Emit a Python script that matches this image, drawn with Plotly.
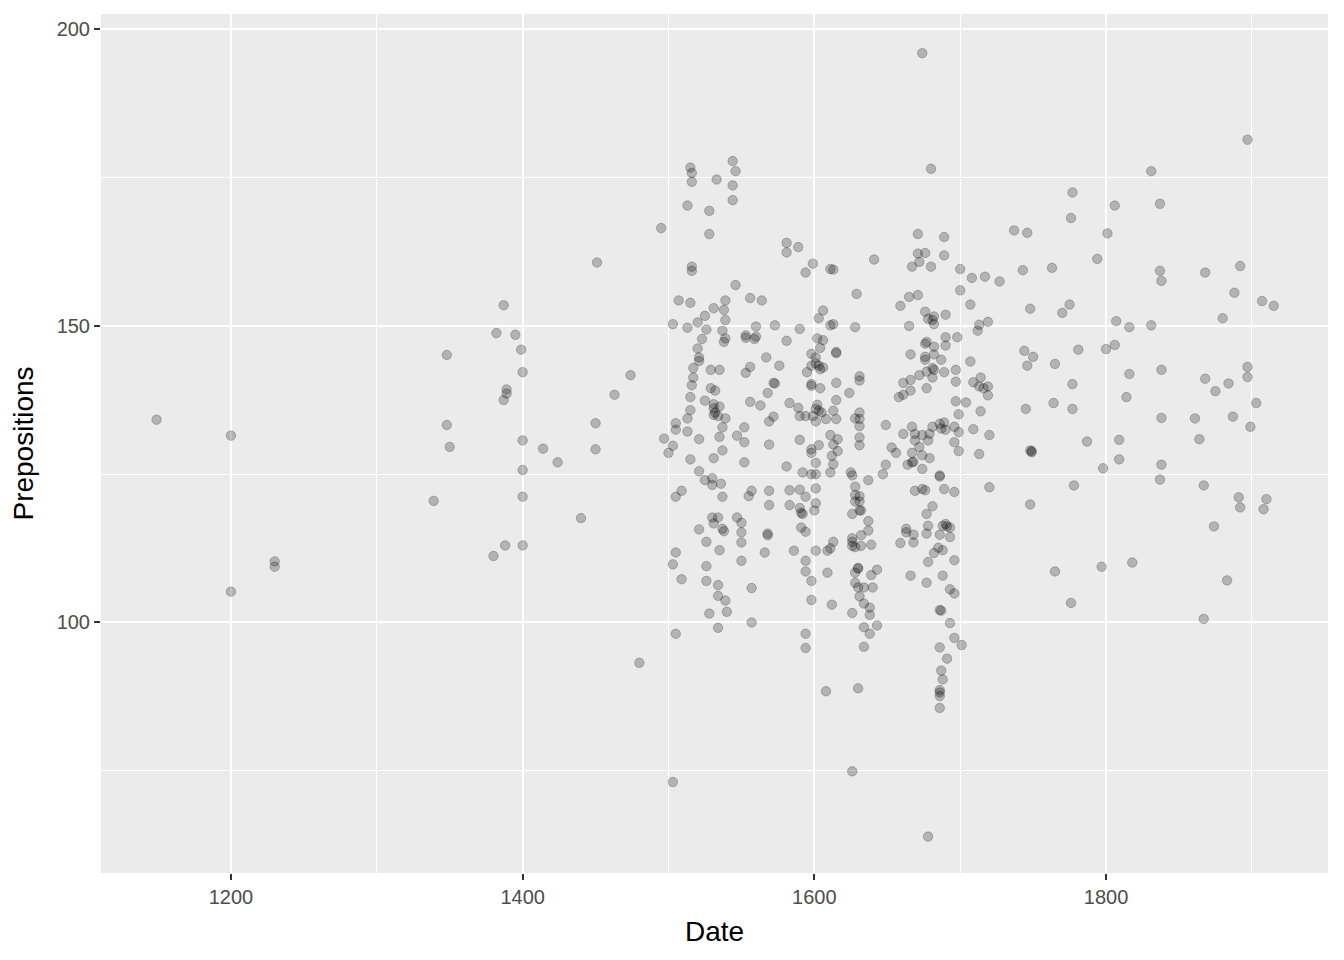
import plotly.graph_objects as go

# Scatter data: Date (year) and Prepositions count
date = [
    1149, 1200, 1200, 1230, 1230, 1339, 1348, 1348, 1350, 1380, 1382, 1387, 1389, 1389, 1387, 1388, 1395, 1399,
    1400, 1400, 1400, 1400, 1400, 1414, 1424, 1440, 1451, 1450, 1450, 1463, 1474, 1480, 1495, 1497, 1500,
    1515, 1516, 1516, 1533, 1544, 1546, 1544, 1544, 1513, 1528, 1528, 1516, 1516, 1546, 1507, 1515, 1531, 1539,
    1556, 1564, 1538, 1525, 1520, 1503, 1513, 1526, 1539, 1560, 1537, 1523, 1539, 1538, 1553, 1553, 1560, 1559,
    1520, 1521, 1521, 1517, 1567, 1529, 1535, 1556, 1553, 1517, 1516, 1529, 1532, 1515, 1525, 1556, 1563, 1531,
    1535, 1531, 1532, 1531, 1534, 1539, 1515, 1513, 1505, 1505, 1513, 1521, 1537, 1535, 1552, 1547, 1552, 1503,
    1537, 1515, 1531, 1552, 1521, 1525, 1530, 1530, 1536, 1509, 1505, 1537, 1557, 1555, 1530, 1534, 1531, 1537,
    1538, 1547, 1550, 1550, 1550, 1521, 1526, 1535, 1505, 1503, 1526, 1550, 1509, 1526, 1534, 1557, 1566, 1534,
    1539, 1540, 1528, 1534, 1557, 1505, 1503,
    1581, 1581, 1589, 1599, 1594, 1611, 1613, 1641, 1629, 1606, 1603, 1573, 1590, 1611, 1613, 1628, 1581, 1602,
    1606, 1604, 1615, 1615, 1598, 1601, 1601, 1603, 1598, 1606, 1595, 1604, 1576, 1631, 1631, 1615, 1624, 1572,
    1573, 1568, 1598, 1598, 1604, 1615, 1583, 1589, 1590, 1594, 1602, 1601, 1603, 1605, 1599, 1601, 1608, 1613,
    1615, 1572, 1569, 1631, 1628, 1631, 1631, 1649, 1611, 1616, 1613, 1631, 1631, 1590, 1569, 1603, 1598, 1616,
    1598, 1601, 1612, 1613, 1581, 1592, 1598, 1601, 1611, 1625, 1626, 1637, 1649, 1647, 1569, 1583, 1590, 1594,
    1601, 1628, 1628, 1628, 1631, 1631, 1631, 1632, 1569, 1583, 1590, 1591, 1592, 1601, 1600, 1626, 1637, 1568,
    1568, 1591, 1594, 1626, 1626, 1626, 1628, 1632, 1632, 1637, 1639, 1586, 1601, 1609, 1611, 1613, 1594, 1594,
    1598, 1609, 1630, 1630, 1628, 1628, 1643, 1639, 1630, 1634, 1640, 1631, 1634, 1638, 1638, 1598, 1612, 1626,
    1634, 1638, 1643, 1634, 1594, 1594, 1608, 1630, 1626,
    1680, 1674, 1671, 1689, 1671, 1676, 1689, 1672, 1667, 1680, 1700, 1708, 1717, 1727, 1700, 1665, 1671, 1659,
    1707, 1676, 1678, 1682, 1682, 1690, 1681, 1665, 1713, 1712, 1719, 1677, 1676, 1690, 1690, 1698, 1682, 1666,
    1676, 1676, 1682, 1687, 1681, 1682, 1677, 1672, 1681, 1689, 1697, 1707, 1666, 1661, 1666, 1658, 1661, 1677,
    1697, 1709, 1714, 1713, 1716, 1719, 1719, 1697, 1704, 1699, 1714, 1667, 1661, 1669, 1669, 1674, 1679, 1681,
    1686, 1689, 1687, 1690, 1678, 1696, 1699, 1696, 1699, 1672, 1653, 1656, 1667, 1668, 1664, 1667, 1674, 1679,
    1674, 1709, 1720, 1713, 1686, 1686, 1669, 1674, 1676, 1689, 1696, 1720, 1681, 1677, 1678, 1677, 1663, 1663,
    1668, 1659, 1668, 1688, 1690, 1691, 1693, 1686, 1693, 1685, 1688, 1682, 1678, 1696, 1666, 1688, 1677, 1693,
    1696, 1686, 1687, 1693, 1696, 1701, 1686, 1691, 1687, 1688, 1686, 1686, 1686, 1686, 1678,
    1897, 1831, 1777, 1806, 1837, 1776, 1737, 1746, 1801, 1794, 1743, 1763, 1837, 1838, 1868, 1892, 1888, 1907,
    1915, 1748, 1775, 1770, 1880, 1807, 1816, 1831, 1744, 1750, 1746, 1765, 1781, 1800, 1806, 1777, 1816, 1838,
    1868, 1875, 1884, 1897, 1897, 1903, 1745, 1764, 1777, 1814, 1838, 1861, 1887, 1899, 1787, 1809, 1809, 1864,
    1748, 1749, 1749, 1798, 1838, 1837, 1778, 1867, 1748, 1891, 1892, 1910, 1908, 1874, 1765, 1797, 1818, 1883,
    1776, 1867,
]

prepositions = [
    134.2, 131.5, 105.2, 110.3, 109.4, 120.5, 145.1, 133.3, 129.6, 111.2, 148.8, 153.5, 139.3, 138.6, 137.5, 113.0, 148.5, 146.0,
    142.2, 130.7, 125.7, 121.2, 113.0, 129.3, 127.0, 117.6, 160.7, 133.6, 129.2, 138.4, 141.7, 93.2, 166.5, 131.0, 128.6,
    176.7, 175.8, 174.3, 174.7, 177.8, 176.1, 173.7, 171.2, 170.3, 169.4, 165.5, 160.0, 159.3, 156.9, 154.3, 153.9, 153.0, 154.3,
    154.7, 154.3, 152.7, 151.7, 150.6, 150.3, 149.7, 149.4, 151.0, 149.9, 149.2, 147.8, 147.9, 147.3, 148.4, 148.0, 148.2, 147.8,
    146.2, 144.7, 144.1, 142.9, 144.7, 142.6, 142.6, 143.1, 142.1, 141.3, 140.0, 139.5, 139.1, 138.0, 137.4, 137.2, 136.6, 136.8,
    136.4, 136.1, 135.4, 135.0, 134.8, 134.4, 135.8, 134.4, 133.6, 132.5, 132.2, 130.9, 132.9, 131.3, 132.9, 131.5, 130.4, 129.8,
    129.0, 127.5, 127.7, 127.0, 125.5, 124.0, 124.3, 123.2, 123.4, 122.2, 121.2, 121.2, 122.2, 121.3, 117.7, 117.7, 116.7, 115.8,
    115.4, 117.7, 116.8, 115.2, 113.5, 115.7, 113.6, 112.2, 111.8, 109.8, 109.5, 110.4, 107.3, 107.0, 106.3, 105.8, 111.8, 104.5,
    103.7, 101.8, 101.5, 99.1, 100.0, 98.1, 73.1,
    164.0, 162.4, 163.3, 160.5, 159.0, 159.6, 159.5, 161.2, 155.4, 152.6, 151.3, 150.1, 149.5, 150.1, 150.3, 149.8, 147.5, 147.9,
    147.6, 146.3, 145.4, 145.6, 145.3, 144.7, 143.7, 143.3, 143.3, 143.0, 142.2, 142.7, 143.3, 141.5, 140.8, 140.4, 138.7, 140.4,
    140.3, 138.7, 140.2, 139.9, 139.5, 137.5, 137.0, 136.2, 134.8, 134.8, 136.7, 136.0, 135.7, 135.4, 134.8, 133.9, 134.3, 135.7,
    134.3, 134.7, 133.9, 135.4, 134.4, 134.3, 133.1, 133.3, 131.6, 130.9, 130.0, 131.2, 129.9, 130.8, 130.0, 129.9, 129.2, 128.9,
    128.6, 126.9, 128.1, 126.7, 126.3, 125.3, 125.0, 125.0, 125.3, 125.3, 124.8, 124.0, 126.6, 125.0, 122.2, 122.3, 122.4, 121.2,
    122.6, 122.9, 121.5, 120.4, 121.3, 120.4, 118.9, 118.9, 119.8, 119.8, 119.3, 118.5, 118.3, 120.1, 118.9, 118.3, 117.1, 115.0,
    114.7, 116.0, 115.3, 114.2, 113.6, 112.9, 112.7, 114.7, 112.9, 115.5, 113.1, 112.1, 112.1, 112.1, 112.5, 113.6, 110.4, 108.6,
    107.0, 108.4, 109.1, 109.2, 108.4, 106.7, 108.9, 108.0, 105.9, 105.9, 105.9, 104.4, 103.2, 102.5, 101.3, 103.8, 103.0, 101.6,
    99.2, 98.1, 99.5, 95.9, 98.1, 95.7, 88.4, 88.9, 74.9,
    176.5, 196.0, 165.5, 165.0, 162.2, 162.3, 161.9, 160.8, 160.0, 160.0, 159.6, 158.1, 158.3, 157.5, 156.0, 154.9, 155.2, 153.4,
    153.6, 152.4, 151.2, 151.6, 150.3, 151.9, 151.0, 150.0, 150.2, 149.2, 150.7, 147.3, 147.0, 148.1, 146.7, 148.1, 146.5, 145.2,
    144.8, 144.3, 145.2, 144.3, 142.9, 142.6, 142.3, 141.7, 141.3, 142.2, 142.6, 144.0, 140.9, 140.4, 139.1, 138.0, 138.4, 139.5,
    140.6, 140.5, 141.3, 139.8, 139.5, 139.8, 138.3, 137.3, 137.1, 135.1, 135.6, 133.0, 131.8, 131.8, 130.7, 131.6, 131.8, 133.0,
    133.5, 133.7, 132.7, 132.5, 130.7, 133.0, 132.1, 130.4, 128.9, 129.6, 129.5, 128.6, 128.6, 127.1, 126.6, 127.0, 128.2, 127.7,
    125.9, 132.6, 131.6, 128.4, 124.6, 124.8, 122.2, 122.5, 122.3, 122.5, 122.0, 122.8, 119.6, 118.3, 116.3, 115.0, 115.8, 115.2,
    114.8, 113.4, 113.5, 116.3, 116.6, 116.2, 116.0, 114.8, 114.4, 112.6, 112.2, 111.7, 110.2, 110.5, 107.9, 107.9, 106.7, 105.6,
    104.9, 102.1, 102.0, 99.9, 97.4, 96.2, 95.8, 93.9, 91.9, 90.4, 88.6, 88.2, 87.6, 85.6, 63.9,
    181.4, 176.1, 172.5, 170.3, 170.6, 168.2, 166.1, 165.7, 165.6, 161.3, 159.4, 159.8, 159.3, 157.6, 159.0, 160.1, 155.6, 154.2,
    153.4, 152.9, 153.6, 152.2, 151.3, 150.8, 149.8, 150.1, 145.8, 144.8, 143.3, 143.6, 146.0, 146.1, 146.8, 140.2, 141.9, 142.6,
    141.1, 139.0, 140.3, 143.1, 141.4, 137.0, 136.0, 137.0, 136.0, 138.0, 134.5, 134.4, 134.7, 133.0, 130.5, 130.8, 127.5, 130.9,
    129.0, 128.9, 128.7, 126.0, 126.6, 124.1, 123.1, 123.1, 119.9, 121.1, 119.4, 120.8, 119.1, 116.2, 108.6, 109.4, 110.1, 107.1,
    103.3, 100.6,
]

x_ticks = [1200, 1400, 1600, 1800]
y_ticks = [100, 150, 200]
x_minor = [1100, 1300, 1500, 1700, 1900]
y_minor = [75, 125, 175]

font_family = "Liberation Sans, Arial, Helvetica, sans-serif"

fig = go.Figure(
    go.Scatter(
        x=date,
        y=prepositions,
        mode="markers",
        marker=dict(
            size=9.5,
            color="rgba(0,0,0,0.24)",
            line=dict(color="rgba(0,0,0,0.22)", width=1),
        ),
        hoverinfo="x+y",
    )
)

# The page body has an 8px margin, so the figure is drawn 8px in from the top-left.
fig.update_layout(
    width=1336,
    height=952,
    margin=dict(l=93, r=16, t=6, b=87),
    paper_bgcolor="white",
    plot_bgcolor="#EBEBEB",
    showlegend=False,
    font=dict(family=font_family, color="#4D4D4D"),
)

axis_common = dict(
    showline=False,
    zeroline=False,
    showgrid=True,
    gridcolor="white",
    gridwidth=2.2,
    ticks="outside",
    ticklen=6,
    tickwidth=1.8,
    tickcolor="#333333",
    tickfont=dict(size=20, color="#4D4D4D", family=font_family),
)

fig.update_xaxes(
    **axis_common,
    range=[1110.9, 1952.2],
    tickvals=x_ticks,
    ticktext=[str(v) for v in x_ticks],
    minor=dict(showgrid=True, gridcolor="white", gridwidth=1.1, tickvals=x_minor, ticks=""),
    title=dict(text="Date", font=dict(size=28, color="black", family=font_family), standoff=14),
)

fig.update_yaxes(
    **axis_common,
    range=[57.76, 202.6],
    tickvals=y_ticks,
    ticktext=[str(v) for v in y_ticks],
    minor=dict(showgrid=True, gridcolor="white", gridwidth=1.1, tickvals=y_minor, ticks=""),
    title=dict(text="Prepositions", font=dict(size=28, color="black", family=font_family), standoff=14),
)

fig.write_html("out.html")
